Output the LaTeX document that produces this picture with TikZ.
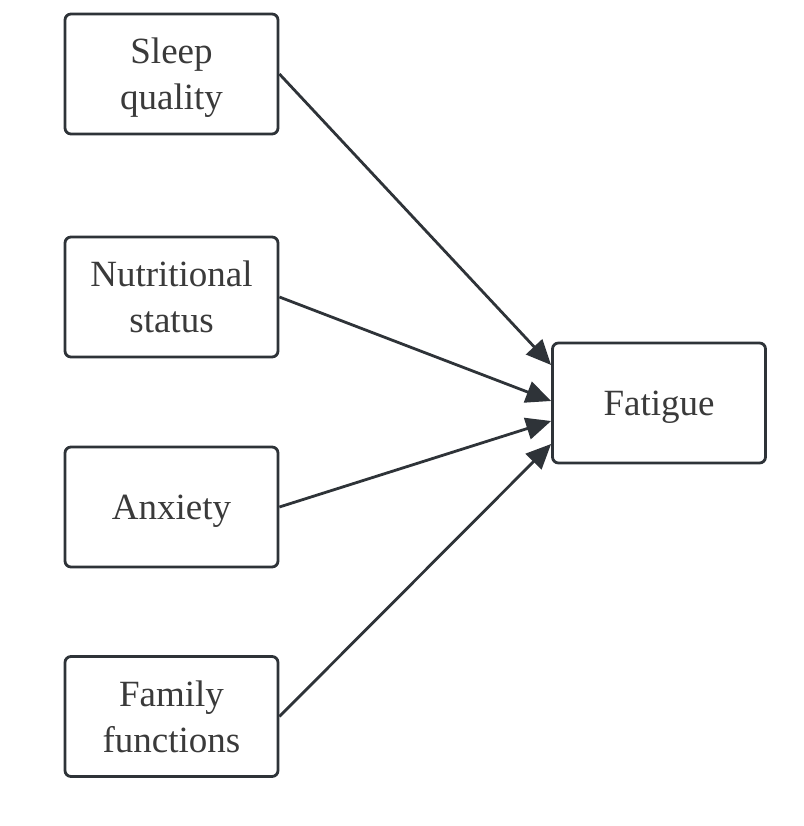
\documentclass[tikz,border=0pt]{standalone}
\usepackage{fontspec}
\setmainfont{Liberation Serif}
\usetikzlibrary{positioning, arrows.meta}
\definecolor{boxline}{HTML}{2E3338}
\definecolor{boxtext}{HTML}{3A3A3A}

\begin{document}
\begin{tikzpicture}[x=1pt, y=-1pt, ->, >={Triangle[length=25pt,width=22pt]}, line width=2.8pt, draw=boxline,
  factor/.style={draw=boxline, fill=white, rectangle, rounded corners=6pt, minimum width=213pt, minimum height=120pt,
    align=center, text=boxtext, font=\fontsize{37}{46}\selectfont, inner sep=0pt, text depth=0pt}]
  \useasboundingbox (0,0) rectangle (803,826);

  \node[factor] (sleep) at (171.5,74) {Sleep\\quality};
  \node[factor] (nutri) at (171.5,297) {Nutritional\\status};
  \node[factor] (anx)   at (171.5,507) {Anxiety};
  \node[factor] (fam)   at (171.5,716.5) {Family\\functions};
  \node[factor] (fatigue) at (659,403) {Fatigue};

  \path[boxline]
    (sleep.east) edge ([yshift=38pt]fatigue.west)
    (nutri.east) edge ([yshift=2pt]fatigue.west)
    (anx.east) edge ([yshift=-18pt]fatigue.west)
    (fam.east) edge ([yshift=-41pt]fatigue.west);

\end{tikzpicture}
\end{document}
